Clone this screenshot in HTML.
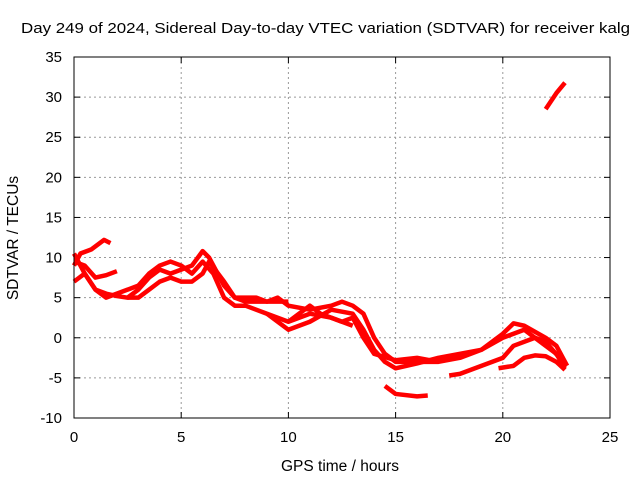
<!DOCTYPE html>
<html><head><meta charset="utf-8"><style>
body{margin:0;background:#fff}
svg{display:block;font-family:"Liberation Sans",sans-serif}
</style></head><body>
<svg id="chart" width="640" height="480">
<rect width="640" height="480" fill="#fff"/>
<text x="21" y="33" font-size="15" textLength="609" lengthAdjust="spacingAndGlyphs">Day 249 of 2024, Sidereal Day-to-day VTEC variation (SDTVAR) for receiver kalg</text>
<text x="340" y="471" text-anchor="middle" font-size="15.5">GPS time / hours</text>
<text transform="translate(18,238) rotate(-90)" text-anchor="middle" font-size="15.5">SDTVAR / TECUs</text>
<g id="grid"></g><g id="ticks"></g><g id="series"></g>
<rect x="74" y="57" width="536" height="361" fill="none" stroke="#000" stroke-width="1"/>
</svg>
<script>
const xTicks=[0,5,10,15,20,25];
const yTicks=[-10,-5,0,5,10,15,20,25,30,35];
const trackA=[[0,9],[0.3,10.5],[0.8,11],[1.4,12.2],[1.7,11.8]];
const trackB=[[0,7],[0.5,8],[1,6],[1.5,5.5],[2,5.2],[2.5,5],[3,6],[3.5,7.5],[4,8.5],[4.5,8],[5,8.5],[5.5,9],[6,10.8],[6.3,10],[7,6.5],[7.5,5],[8,4.5],[9,4.5],[10,4.5]];
const trackC=[[0,9.5],[0.5,9],[1,7.5],[1.5,7.8],[2,8.3]];
const trackD=[[0,10.5],[0.5,8],[1,6],[1.5,5],[2,5.5],[2.5,6],[3,6.5],[3.5,8],[4,9],[4.5,9.5],[5,9],[5.5,8],[6,9.5],[6.5,8],[7,5],[7.5,4],[8,4],[9,3],[10,2],[11,3],[12,2.5],[13,1.5]];
const trackE=[[2.5,5],[3,5],[3.5,6],[4,7],[4.5,7.5],[5,7],[5.5,7],[6,8],[6.3,9.5],[7,7],[7.5,5],[8.5,5],[9,4.5],[9.5,5],[10,4],[11,3.5],[12,4],[12.5,4.5],[13,4],[13.5,3],[14,0],[14.5,-2],[15,-3],[16,-3],[17,-3],[18,-2.5],[19,-1.5],[20,0.5],[20.5,1.8],[21,1.5],[22,0],[22.5,-1],[23,-3.5]];
const trackF=[[9,3],[10,1],[11,2],[12,3.5],[13,3],[13.5,1],[14,-1.5],[14.5,-3],[15,-3.8],[16,-3.2],[17,-2.5],[18,-2],[19,-1.5],[20,0],[21,1],[21.5,0],[22,-1],[22.5,-2],[22.9,-3.8]];
const trackG=[[10,2],[11,4],[11.5,3],[12.5,2],[13,2.5],[13.5,0],[14,-2],[15,-2.8],[16,-2.5],[17,-3]];
const trackH=[[14.5,-6],[15,-7],[16,-7.3],[16.5,-7.2]];
const trackI=[[17.5,-4.7],[18,-4.5],[19,-3.5],[20,-2.5],[20.5,-1],[21.5,0],[22,-0.5],[22.8,-3]];
const trackJ=[[19.8,-3.8],[20.5,-3.5],[21,-2.5],[21.5,-2.2],[22,-2.3],[22.5,-3],[22.9,-4]];
const trackK=[[22,28.5],[22.5,30.5],[22.9,31.8]];
const tracks=[trackA,trackB,trackC,trackD,trackE,trackF,trackG,trackH,trackI,trackJ,trackK];
const X0=74,X1=610,Y0=418,Y1=57;
const xs=h=>X0+(h-0)/(25-0)*(X1-X0);
const ys=v=>Y0-(v+10)/(45)*(Y0-Y1);
const NS='http://www.w3.org/2000/svg';
const grid=document.getElementById('grid'),ticks=document.getElementById('ticks'),ser=document.getElementById('series');
function mk(t,a,p){const e=document.createElementNS(NS,t);for(const k in a)e.setAttribute(k,a[k]);p.appendChild(e);return e;}
xTicks.forEach(t=>{const x=xs(t);
 if(t>0&&t<25){const g=mk('line',{x1:x,x2:x,y1:Y1,y2:Y0,stroke:'#999','stroke-dasharray':'2,3'},grid);
 
 }
 const l=mk('text',{x:x,y:Y0+24,'text-anchor':'middle','font-size':15},ticks);l.textContent=t;
 
 
 mk('line',{x1:x,x2:x,y1:Y0,y2:Y0-6,stroke:'#000'},ticks);mk('line',{x1:x,x2:x,y1:Y1,y2:Y1+6,stroke:'#000'},ticks);});
yTicks.forEach(t=>{const y=ys(t);
 if(t>-10&&t<35){const g=mk('line',{x1:X0,x2:X1,y1:y,y2:y,stroke:'#999','stroke-dasharray':'2,3'},grid);
 
 }
 const l=mk('text',{x:X0-12,y:y+5,'text-anchor':'end','font-size':15},ticks);l.textContent=t;
 
 
 mk('line',{x1:X0,x2:X0+6,y1:y,y2:y,stroke:'#000'},ticks);mk('line',{x1:X1,x2:X1-6,y1:y,y2:y,stroke:'#000'},ticks);});
tracks.forEach((tr,i)=>{const p=mk('polyline',{points:tr.map(d=>xs(d[0])+','+ys(d[1])).join(' '),fill:'none',stroke:'#f00','stroke-width':4.5,'stroke-linejoin':'round','stroke-linecap':'butt'},ser);
 
 });
</script>
</body></html>
